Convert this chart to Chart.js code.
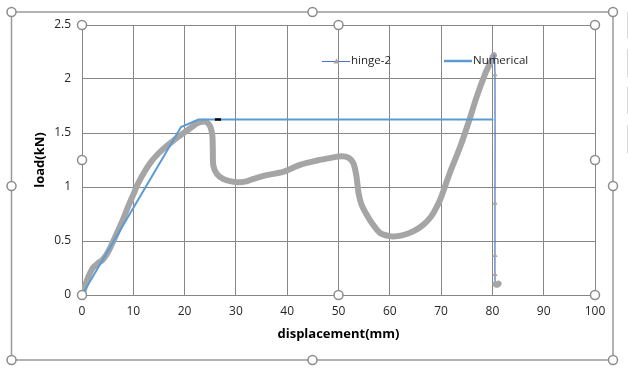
<!DOCTYPE html>
<html>
<head>
<meta charset="utf-8">
<script src="https://cdn.jsdelivr.net/npm/chart.js@4.4.1/dist/chart.umd.min.js"></script>
<style>
  body { margin: 0; background: #fff; }
  canvas { display: block; }
</style>
</head>
<body>
<canvas id="loadChart" width="628" height="372"></canvas>
<script>
// hinge-2 test curve (loading part)
const hingeX = [0, 0.2, 1, 2.1, 3, 4.1, 5.1, 6.4, 8, 9,
  10, 10.9, 12.3, 13.5, 14.9, 16.5, 18.1, 19.5, 20.7, 21.8,
  22.7, 23.6, 24.3, 25.0, 25.4, 25.5, 25.6, 26.3, 27.5, 28.8,
  30.2, 31.8, 33.4, 36, 39.2, 42.5, 45.8, 48.5, 50.6, 52.0,
  52.9, 53.5, 53.9, 54.5, 55.5, 56.5, 58.1, 60, 61.5, 63.3,
  65, 66.5, 67.6, 68.5, 69.8, 71.7, 73.7, 75.3, 76.9, 78.6,
  79.6, 80.3];
const hingeY = [0, 0.02, 0.14, 0.25, 0.29, 0.33, 0.40, 0.53, 0.70, 0.82,
  0.93, 1.03, 1.15, 1.235, 1.31, 1.38, 1.44, 1.49, 1.53, 1.57,
  1.596, 1.605, 1.6, 1.56, 1.48, 1.35, 1.2, 1.12, 1.075, 1.055,
  1.045, 1.05, 1.075, 1.11, 1.14, 1.205, 1.245, 1.27, 1.285, 1.27,
  1.22, 1.1, 0.944, 0.836, 0.743, 0.667, 0.574, 0.545, 0.545, 0.565,
  0.6, 0.65, 0.7, 0.76, 0.88, 1.13, 1.37, 1.59, 1.83, 2.05,
  2.15, 2.22];
// hinge-2 unloading drop
const dropX = [80.5, 80.5, 80.5, 80.5, 80.6, 81.0, 81.2];
const dropY = [2.04, 0.85, 0.365, 0.19, 0.1, 0.095, 0.105];

const numX = [0, 19.3, 22.7, 80.2];
const numY = [0, 1.555, 1.625, 1.625];

const markX = [25.9, 27.1];
const markY = [1.625, 1.625];

const xTicks = [0, 10, 20, 30, 40, 50, 60, 70, 80, 90, 100];
const yTicks = [0, 0.5, 1, 1.5, 2, 2.5];

const toPoints = (xs, ys) => xs.map((x, i) => ({ x: x, y: ys[i] }));

const hingeData = toPoints(hingeX.concat(dropX), hingeY.concat(dropY));
const peakIndex = hingeX.length - 1;
const blobStart = hingeData.length - 3;

const GRAY = '#a5a5a5';
const DARKBLUE = '#4472c4';
const LIGHTBLUE = '#5b9bd5';
const FONT = "'Open Sans', sans-serif";

const isThin = ctx => ctx.p0DataIndex >= peakIndex && ctx.p1DataIndex <= blobStart;

// frame, selection handles and the legend inside the plot
const framePlugin = {
    id: 'frame',
    afterDraw(chart) {
        const c = chart.ctx;
        const a = chart.chartArea;
        c.save();

        c.strokeStyle = '#d9d9d9';
        c.lineWidth = 1;
        [[12, 38], [49, 77], [87, 114], [125, 153]].forEach(s => {
            c.beginPath();
            c.moveTo(627.5, s[0]);
            c.lineTo(627.5, s[1]);
            c.stroke();
        });

        c.strokeStyle = '#9a9a9a';
        c.lineWidth = 1.5;
        c.strokeRect(11.5, 12, 601.5, 348);

        // legend
        c.lineWidth = 1;
        c.strokeStyle = DARKBLUE;
        c.beginPath();
        c.moveTo(322, 61.5);
        c.lineTo(350, 61.5);
        c.stroke();
        c.fillStyle = GRAY;
        c.beginPath();
        c.moveTo(336.5, 58.5);
        c.lineTo(339.5, 63.5);
        c.lineTo(333.5, 63.5);
        c.closePath();
        c.fill();
        c.lineWidth = 2.5;
        c.strokeStyle = LIGHTBLUE;
        c.beginPath();
        c.moveTo(444, 61);
        c.lineTo(472, 61);
        c.stroke();
        c.fillStyle = '#262626';
        c.font = '11.5px ' + FONT;
        c.textBaseline = 'middle';
        c.fillText('hinge-2', 351, 61);
        c.fillText('Numerical', 473, 61);

        const midX = (a.left + a.right) / 2;
        const midY = (a.top + a.bottom) / 2;
        const handles = [
            [11.5, 12], [312.5, 12], [613, 12], [11.5, 186], [613, 186],
            [11.5, 360], [312.5, 360], [613, 360],
            [a.left, a.top], [midX, a.top], [a.right, a.top], [a.left, midY], [a.right, midY],
            [a.left, a.bottom], [midX, a.bottom], [a.right, a.bottom]
        ];
        c.lineWidth = 1.5;
        c.strokeStyle = '#8c8c8c';
        c.fillStyle = '#ffffff';
        handles.forEach(h => {
            c.beginPath();
            c.arc(h[0], h[1], 4.5, 0, Math.PI * 2);
            c.fill();
            c.stroke();
        });
        c.restore();
    }
};

new Chart(document.getElementById('loadChart').getContext('2d'), {
    type: 'line',
    data: {
        datasets: [
            {
                label: 'mark',
                data: toPoints(markX, markY),
                borderColor: '#000000',
                borderWidth: 2.5,
                pointRadius: 0,
                order: 0
            },
            {
                label: 'Numerical',
                data: toPoints(numX, numY),
                borderColor: LIGHTBLUE,
                borderWidth: 2,
                pointRadius: 0,
                order: 1
            },
            {
                label: 'hinge-2',
                data: hingeData,
                borderColor: GRAY,
                borderWidth: 6,
                borderCapStyle: 'round',
                borderJoinStyle: 'round',
                tension: 0.3,
                segment: {
                    borderColor: ctx => isThin(ctx) ? DARKBLUE : GRAY,
                    borderWidth: ctx => isThin(ctx) ? 1.2 : 6
                },
                pointStyle: 'triangle',
                pointRadius: ctx => (ctx.dataIndex > peakIndex && ctx.dataIndex < blobStart) ? 3 : 0,
                pointBackgroundColor: GRAY,
                pointBorderColor: GRAY,
                pointBorderWidth: 0,
                order: 2
            }
        ]
    },
    options: {
        responsive: false,
        animation: false,
        layout: { padding: { top: 25, right: 33, left: 0, bottom: 0 } },
        scales: {
            x: {
                type: 'linear',
                min: 0,
                max: 100,
                afterFit: s => { s.height = 77; },
                afterBuildTicks: s => { s.ticks = xTicks.map(v => ({ value: v })); },
                grid: { color: '#878787', lineWidth: 1, drawTicks: false },
                border: { color: '#878787' },
                ticks: {
                    padding: 9,
                    color: '#262626',
                    font: { family: FONT, size: 12 },
                    callback: v => String(v)
                },
                title: {
                    display: true,
                    text: 'displacement(mm)',
                    color: '#000000',
                    font: { family: FONT, size: 13, weight: 'bold' },
                    padding: { top: 0, bottom: 30 }
                }
            },
            y: {
                type: 'linear',
                min: 0,
                max: 2.5,
                afterFit: s => { s.width = 82; },
                afterBuildTicks: s => { s.ticks = yTicks.map(v => ({ value: v })); },
                grid: { color: '#878787', lineWidth: 1, drawTicks: false },
                border: { color: '#878787' },
                ticks: {
                    padding: 11,
                    color: '#262626',
                    font: { family: FONT, size: 12 },
                    callback: v => String(v)
                },
                title: {
                    display: true,
                    text: 'load(kN)',
                    color: '#000000',
                    font: { family: FONT, size: 13, weight: 'bold' },
                    padding: { top: 32, bottom: 0 }
                }
            }
        },
        plugins: {
            legend: { display: false },
            tooltip: { enabled: false }
        }
    },
    plugins: [framePlugin]
});
</script>
</body>
</html>
